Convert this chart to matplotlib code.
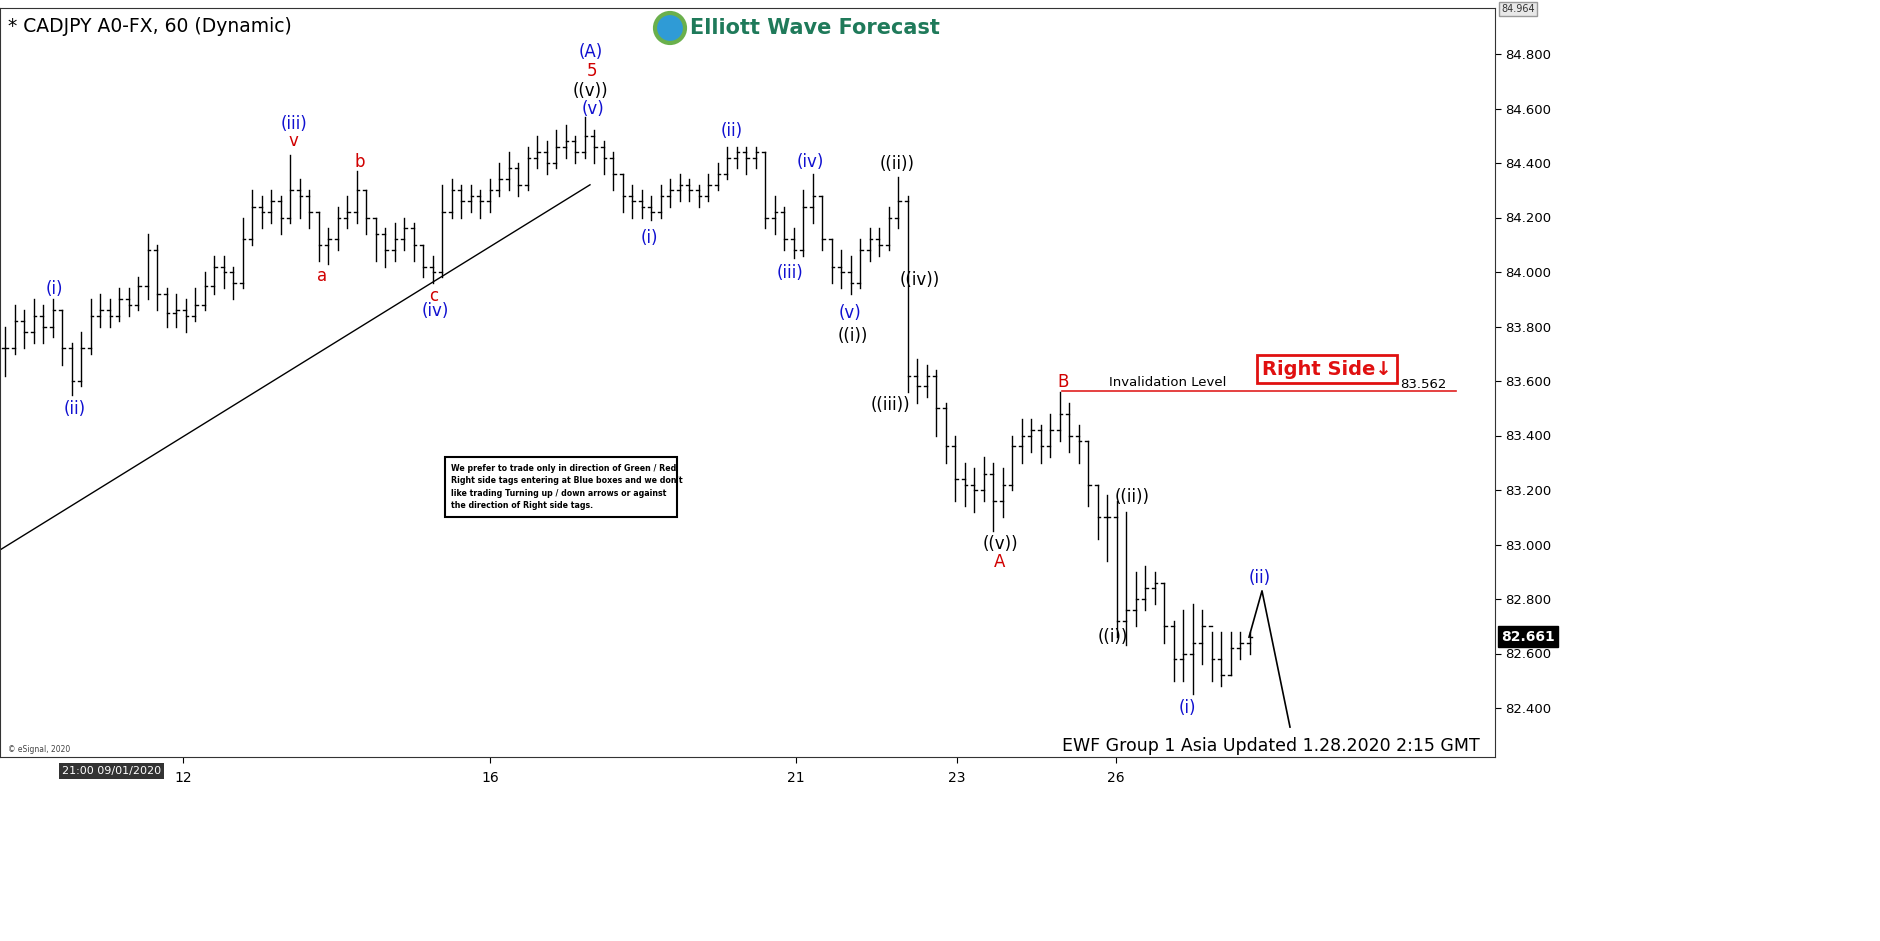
import matplotlib
matplotlib.use("Agg")
import matplotlib.pyplot as plt
from matplotlib.patches import Rectangle, Ellipse

# hourly bars (left to right)
closes = [
    83.72, 83.82, 83.78, 83.84, 83.80, 83.86, 83.72, 83.60, 83.72, 83.84,
    83.86, 83.84, 83.90, 83.88, 83.95, 84.08, 83.92, 83.85, 83.86, 83.84,
    83.88, 83.95, 84.02, 84.00, 83.96, 84.12, 84.24, 84.22, 84.26, 84.20,
    84.30, 84.28, 84.22, 84.10, 84.12, 84.20, 84.22, 84.30, 84.20, 84.14,
    84.08, 84.12, 84.16, 84.10, 84.02, 84.00, 84.22, 84.30, 84.26, 84.28,
    84.26, 84.30, 84.34, 84.38, 84.32, 84.42, 84.44, 84.40, 84.46, 84.48,
    84.44, 84.50, 84.46, 84.42, 84.36, 84.28, 84.26, 84.24, 84.22, 84.28,
    84.30, 84.32, 84.30, 84.28, 84.32, 84.36, 84.42, 84.44, 84.42, 84.44,
    84.20, 84.22, 84.12, 84.08, 84.24, 84.28, 84.12, 84.02, 84.00, 83.96,
    84.08, 84.12, 84.10, 84.20, 84.26, 83.62, 83.58, 83.62, 83.50, 83.36,
    83.24, 83.22, 83.20, 83.26, 83.16, 83.22, 83.36, 83.40, 83.42, 83.36,
    83.42, 83.48, 83.40, 83.38, 83.22, 83.10, 83.10, 82.72, 82.76, 82.80,
    82.84, 82.86, 82.70, 82.58, 82.60, 82.64, 82.70, 82.58, 82.52, 82.62,
    82.64, 82.66,
]
highs = [
    83.80, 83.88, 83.86, 83.90, 83.88, 83.90, 83.86, 83.74, 83.78, 83.90,
    83.92, 83.90, 83.94, 83.94, 83.98, 84.14, 84.10, 83.94, 83.92, 83.90,
    83.94, 84.00, 84.06, 84.06, 84.02, 84.20, 84.30, 84.28, 84.30, 84.28,
    84.43, 84.34, 84.30, 84.22, 84.16, 84.24, 84.28, 84.37, 84.30, 84.20,
    84.16, 84.18, 84.20, 84.18, 84.10, 84.06, 84.32, 84.34, 84.32, 84.32,
    84.30, 84.34, 84.40, 84.44, 84.40, 84.46, 84.50, 84.48, 84.52, 84.54,
    84.50, 84.57, 84.52, 84.48, 84.44, 84.36, 84.32, 84.30, 84.28, 84.32,
    84.34, 84.36, 84.34, 84.32, 84.36, 84.40, 84.46, 84.46, 84.46, 84.46,
    84.44, 84.28, 84.24, 84.16, 84.30, 84.36, 84.28, 84.12, 84.08, 84.06,
    84.12, 84.16, 84.16, 84.24, 84.35, 84.28, 83.68, 83.66, 83.64, 83.52,
    83.40, 83.30, 83.28, 83.32, 83.30, 83.28, 83.40, 83.46, 83.46, 83.44,
    83.48, 83.56, 83.52, 83.44, 83.38, 83.22, 83.18, 83.16, 83.12, 82.90,
    82.92, 82.90, 82.86, 82.72, 82.76, 82.78, 82.76, 82.68, 82.68, 82.68,
    82.68, 82.68,
]
lows = [
    83.62, 83.70, 83.72, 83.74, 83.74, 83.76, 83.66, 83.55, 83.58, 83.70,
    83.80, 83.80, 83.82, 83.84, 83.86, 83.90, 83.86, 83.80, 83.80, 83.78,
    83.82, 83.86, 83.92, 83.94, 83.90, 83.94, 84.10, 84.16, 84.18, 84.14,
    84.18, 84.20, 84.16, 84.04, 84.03, 84.08, 84.16, 84.18, 84.14, 84.04,
    84.02, 84.04, 84.08, 84.04, 83.98, 83.96, 83.98, 84.20, 84.20, 84.22,
    84.20, 84.22, 84.28, 84.30, 84.28, 84.30, 84.38, 84.36, 84.38, 84.42,
    84.40, 84.42, 84.40, 84.36, 84.30, 84.22, 84.20, 84.20, 84.19, 84.20,
    84.24, 84.26, 84.26, 84.24, 84.26, 84.30, 84.34, 84.38, 84.36, 84.38,
    84.16, 84.14, 84.08, 84.05, 84.06, 84.18, 84.08, 83.96, 83.94, 83.92,
    83.94, 84.04, 84.06, 84.08, 84.16, 83.56, 83.52, 83.54, 83.40, 83.30,
    83.16, 83.14, 83.12, 83.16, 83.05, 83.10, 83.20, 83.30, 83.34, 83.30,
    83.32, 83.38, 83.34, 83.30, 83.14, 83.02, 82.94, 82.66, 82.63, 82.70,
    82.76, 82.78, 82.64, 82.50, 82.50, 82.45, 82.56, 82.50, 82.48, 82.52,
    82.58, 82.60,
]
date_labels = ["12", "16", "21", "23", "26"]
date_px = [183, 490, 796, 957, 1116]
price_ticks = [82.4, 82.6, 82.8, 83.0, 83.2, 83.4, 83.6, 83.8, 84.0, 84.2, 84.4, 84.6, 84.8]
projection = [82.66, 82.83, 82.33]
projection_px = [1249, 1262, 1290]
trend_price = [82.98, 84.32]
trend_px = [0, 590]
invalidation = 83.562
last_price = 82.661
top_price = 84.964

# wave labels: (pixel x, pixel y, text, colour)
waves = [
    (591, 52, "(A)", "#1010d0"), (592, 71, "5", "#d00000"), (590, 91, "((v))", "black"),
    (593, 109, "(v)", "#1010d0"), (294, 124, "(iii)", "#1010d0"), (293, 141, "v", "#d00000"),
    (360, 162, "b", "#d00000"), (322, 276, "a", "#d00000"), (434, 296, "c", "#d00000"),
    (435, 311, "(iv)", "#1010d0"), (54, 289, "(i)", "#1010d0"), (75, 409, "(ii)", "#1010d0"),
    (649, 238, "(i)", "#1010d0"), (732, 131, "(ii)", "#1010d0"), (810, 162, "(iv)", "#1010d0"),
    (790, 273, "(iii)", "#1010d0"), (850, 313, "(v)", "#1010d0"), (853, 336, "((i))", "black"),
    (897, 164, "((ii))", "black"), (920, 280, "((iv))", "black"), (890, 405, "((iii))", "black"),
    (1000, 544, "((v))", "black"), (1000, 562, "A", "#d00000"), (1063, 382, "B", "#d00000"),
    (1132, 497, "((ii))", "black"), (1113, 637, "((i))", "black"), (1260, 578, "(ii)", "#1010d0"),
    (1187, 708, "(i)", "#1010d0"),
]

W, H = 1881, 941
AX_L, AX_R, AX_T, AX_B = 0, 1495, 8, 757
SP = 9.5


def px2i(px):
    return (px - 5) / SP


def y2p(y):
    return 84.8 - (y - 54) / 272.5


fig = plt.figure(figsize=(W / 100, H / 100), dpi=100, facecolor="white")
ax = fig.add_axes([AX_L / W, 1 - AX_B / H, (AX_R - AX_L) / W, (AX_B - AX_T) / H])
ax.set_xlim(px2i(AX_L), px2i(AX_R))
ax.set_ylim(y2p(AX_B), y2p(AX_T))

opens = [closes[0]] + closes[:-1]
for i, (o, h, l, c) in enumerate(zip(opens, highs, lows, closes)):
    ax.plot([i, i], [l, h], color="black", lw=1)
    ax.plot([i - 0.3, i], [o, o], color="black", lw=1)
    ax.plot([i, i + 0.3], [c, c], color="black", lw=1)

ax.plot([px2i(p) for p in trend_px], trend_price, color="black", lw=1)
ax.plot([px2i(p) for p in projection_px], projection, color="black", lw=1.2)
ax.plot([px2i(1062), px2i(1456)], [invalidation, invalidation], color="#e02020", lw=1.2)
ax.text(px2i(1168), y2p(383), "Invalidation Level", fontsize=9.5, ha="center", va="center")
ax.text(px2i(1423), y2p(384), "83.562", fontsize=9.5, ha="center", va="center")

for px, py, txt, col in waves:
    ax.text(px2i(px), y2p(py), txt, color=col, fontsize=12, ha="center", va="center")

ax.text(px2i(8), y2p(26), "* CADJPY A0-FX, 60 (Dynamic)", fontsize=13.5, ha="left", va="center")
ax.text(px2i(8), y2p(750), "© eSignal, 2020", fontsize=5.5, color="#444444", ha="left", va="center")
ax.text(px2i(1480), y2p(746), "EWF Group 1 Asia Updated 1.28.2020 2:15 GMT", fontsize=12.5,
        ha="right", va="center")

# logo
ax.text(px2i(690), y2p(28), "Elliott Wave Forecast", fontsize=15, fontweight="bold",
        color="#1f7a5a", ha="left", va="center")
fig.patches.append(Ellipse((670 / W, 1 - 28 / H), 30 / W, 30 / H, transform=fig.transFigure,
                           facecolor="#2f9bd6", edgecolor="#6ab04c", lw=3))

# right side tag
ax.text(px2i(1327), y2p(369), "Right Side\u2193", fontsize=14, fontweight="bold", color="#e01010",
        ha="center", va="center",
        bbox=dict(boxstyle="square,pad=0.25", facecolor="white", edgecolor="#e01010", lw=2))

notice = ("We prefer to trade only in direction of Green / Red\n"
          "Right side tags entering at Blue boxes and we don't\n"
          "like trading Turning up / down arrows or against\n"
          "the direction of Right side tags.")
ax.add_patch(Rectangle((px2i(445), y2p(517)), px2i(677) - px2i(445), y2p(457) - y2p(517),
                       facecolor="white", edgecolor="black", lw=1.5, zorder=3))
ax.text(px2i(451), y2p(487), notice, fontsize=5.7, fontweight="bold", ha="left", va="center",
        linespacing=1.5, zorder=4)

ax.yaxis.tick_right()
ax.set_yticks(price_ticks)
ax.set_yticklabels([f"{p:.3f}" for p in price_ticks], fontsize=9.5)
ax.tick_params(axis="y", length=4, pad=3)
ax.set_xticks([px2i(p) for p in date_px])
ax.set_xticklabels(date_labels, fontsize=10)
ax.tick_params(axis="x", length=4, pad=6)
for s in ax.spines.values():
    s.set_color("#333333")

ax.text(1.004, (last_price - y2p(AX_B)) / (y2p(AX_T) - y2p(AX_B)), f"{last_price:.3f}",
        transform=ax.transAxes, fontsize=10, fontweight="bold", color="white", ha="left",
        va="center", bbox=dict(boxstyle="square,pad=0.25", facecolor="black", edgecolor="black"))
ax.text(1.004, (top_price - y2p(AX_B)) / (y2p(AX_T) - y2p(AX_B)), f"{top_price:.3f}",
        transform=ax.transAxes, fontsize=7, color="#333333", ha="left", va="center",
        bbox=dict(boxstyle="square,pad=0.2", facecolor="#e8e8e8", edgecolor="#999999"))
fig.text(62 / W, 1 - 771 / H, "21:00 09/01/2020", fontsize=8, color="white", ha="left", va="center",
         bbox=dict(boxstyle="square,pad=0.3", facecolor="#333333", edgecolor="none"))

fig.savefig("out.png", dpi=100, facecolor="white")
